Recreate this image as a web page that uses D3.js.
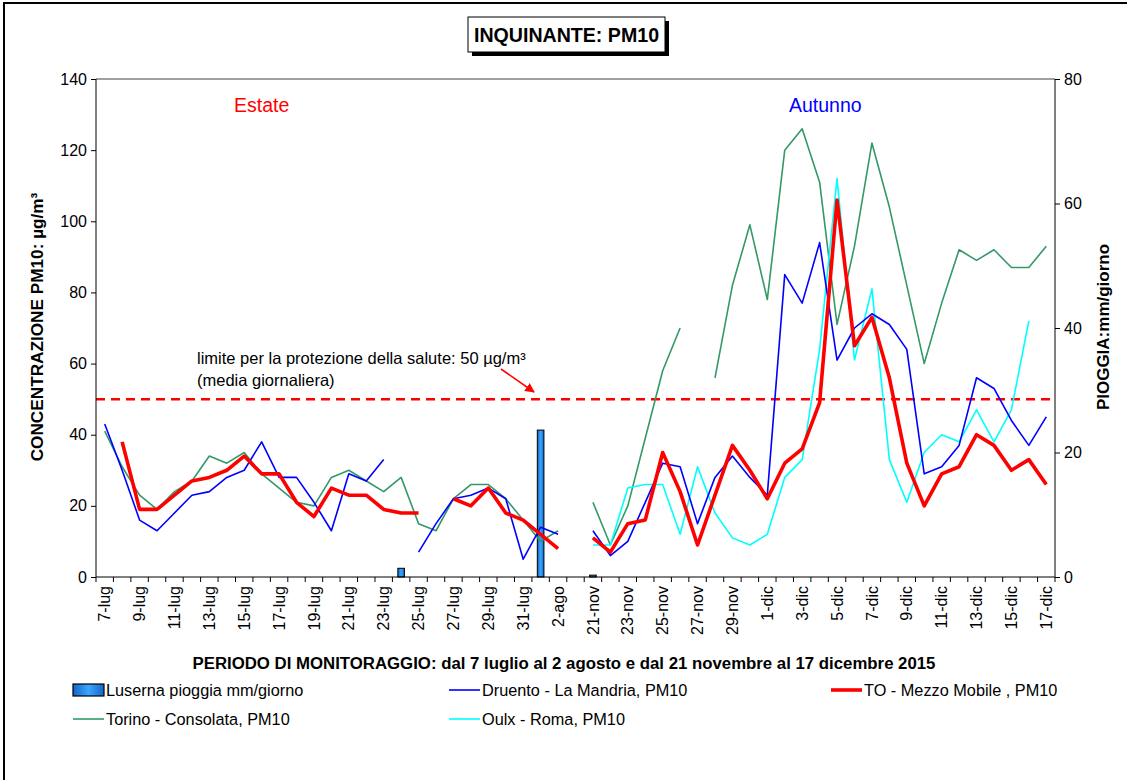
<!doctype html>
<html lang="en">
<head>
  <meta charset="utf-8">
  <title>Inquinante PM10</title>
  <style>
  body { margin: 0; background: #fff; }
  svg { display: block; font-family: "Liberation Sans", Arial, sans-serif; }
  .axis text { font-size: 16px; fill: #000; }
  .axis path, .axis line { stroke: #000; }
  </style>
</head>
<body>
  <div id="chart"></div>
  <script src="https://cdn.jsdelivr.net/npm/d3@7"></script>
  <script>
    // categories (the empty one is the gap between the two periods)
    var categories = ["7-lug","8-lug","9-lug","10-lug","11-lug","12-lug","13-lug","14-lug","15-lug","16-lug",
      "17-lug","18-lug","19-lug","20-lug","21-lug","22-lug","23-lug","24-lug","25-lug","26-lug",
      "27-lug","28-lug","29-lug","30-lug","31-lug","1-ago","2-ago","",
      "21-nov","22-nov","23-nov","24-nov","25-nov","26-nov","27-nov","28-nov","29-nov","30-nov",
      "1-dic","2-dic","3-dic","4-dic","5-dic","6-dic","7-dic","8-dic","9-dic","10-dic",
      "11-dic","12-dic","13-dic","14-dic","15-dic","16-dic","17-dic"];

    var rain = [0,0,0,0,0,0,0,0,0,0, 0,0,0,0,0,0,0,1.4,0,0, 0,0,0,0,0,23.6,0,0,
      0.3,0,0,0,0,0,0,0,0,0, 0,0,0,0,0,0,0,0,0,0, 0,0,0,0,0,0,0];

    var druento = [43,30,16,13,18,23,24,28,30,38, 28,28,21,13,29,27,33,null,7,15, 22,23,25,22,5,14,12,null,
      13,6,10,21,32,31,15,28,34,28, 23,85,77,94,61,70,74,71,64,29, 31,37,56,53,44,37,45];

    var mezzoMobile = [null,38,19,19,23,27,28,30,34,29, 29,21,17,25,23,23,19,18,18,null, 22,20,25,18,16,12,8,null,
      11,7,15,16,35,24,9,23,37,30, 22,32,36,49,106,65,73,56,32,20, 29,31,40,37,30,33,26];

    var consolata = [41,31,23,19,24,27,34,32,35,29, 25,21,20,28,30,27,24,28,15,13, 22,26,26,22,16,10,13,null,
      21,9,20,39,58,70,null,56,82,99, 78,120,126,111,71,93,122,104,82,60, 77,92,89,92,87,87,93];

    var oulx = [null,null,null,null,null,null,null,null,null,null, null,null,null,null,null,null,null,null,null,null,
      null,null,null,null,null,null,null,null,
      9,9,25,26,26,12,31,18,11,9, 12,28,33,64,112,61,81,33,21,35, 40,38,47,38,47,72,null];

    var leftTicks = [0,20,40,60,80,100,120,140];
    var rightTicks = [0,20,40,60,80];
    var limit = 50;

    (function(){

    var width = 1127, height = 780;
    var mLeft = 96, mRight = 1055, mTop = 79, mBottom = 577;

    var svg = d3.select("#chart").append("svg")
      .attr("width", width).attr("height", height);

    var defs = svg.append("defs");
    var grad = defs.append("linearGradient").attr("id", "barGrad")
      .attr("x1", "0").attr("x2", "1").attr("y1", "0").attr("y2", "0");
    grad.append("stop").attr("offset", "0%").attr("stop-color", "#1565c8");
    grad.append("stop").attr("offset", "50%").attr("stop-color", "#3aa6ff");
    grad.append("stop").attr("offset", "100%").attr("stop-color", "#1565c8");

    // outer frame
    svg.append("rect").attr("x", 4).attr("y", 3).attr("width", 1200).attr("height", 900)
      .attr("fill", "none").attr("stroke", "#000").attr("stroke-width", 2);

    // title box with shadow
    svg.append("rect").attr("x", 472).attr("y", 21).attr("width", 197).attr("height", 35).attr("fill", "#000");
    svg.append("rect").attr("x", 468).attr("y", 17).attr("width", 197).attr("height", 35)
      .attr("fill", "#fff").attr("stroke", "#000").attr("stroke-width", 1);
    svg.append("text").attr("x", 566.5).attr("y", 41.5).attr("text-anchor", "middle")
      .attr("font-weight", "bold").attr("font-size", 19.6).text("INQUINANTE: PM10");

    var x = d3.scaleBand().domain(categories).range([mLeft, mRight]).paddingInner(0).paddingOuter(0);
    var bw = x.bandwidth();
    var yL = d3.scaleLinear().domain([0, 140]).range([mBottom, mTop]);
    var yR = d3.scaleLinear().domain([0, 80]).range([mBottom, mTop]);
    var cx = function(i) { return x(categories[i]) + bw / 2; };

    // top border of plot area
    svg.append("line").attr("x1", mLeft).attr("x2", mRight).attr("y1", mTop).attr("y2", mTop)
      .attr("stroke", "#808080").attr("stroke-width", 1.5);

    // rain bars
    svg.append("g").selectAll("rect")
      .data(rain.map(function(v, i) { return {v: v, i: i}; }).filter(function(d) { return d.v > 0; }))
      .enter().append("rect")
      .attr("x", function(d) { return cx(d.i) - 3.3; })
      .attr("width", 6.6)
      .attr("y", function(d) { return yR(d.v); })
      .attr("height", function(d) { return mBottom - yR(d.v); })
      .attr("fill", "url(#barGrad)").attr("stroke", "#000").attr("stroke-width", 1);

    // limit line
    svg.append("line").attr("x1", mLeft).attr("x2", mRight).attr("y1", yL(limit)).attr("y2", yL(limit))
      .attr("stroke", "#ff0000").attr("stroke-width", 2.5).attr("stroke-dasharray", "9,6");

    var line = d3.line()
      .defined(function(d) { return d != null; })
      .x(function(d, i) { return cx(i); })
      .y(function(d) { return yL(d); });

    var series = [
      {data: consolata, color: "#339966", w: 1.6},
      {data: oulx, color: "#00ffff", w: 1.6},
      {data: druento, color: "#0000ff", w: 1.6},
      {data: mezzoMobile, color: "#ff0000", w: 3.6}
    ];
    svg.append("g").selectAll("path").data(series).enter().append("path")
      .attr("d", function(s) { return line(s.data); })
      .attr("fill", "none")
      .attr("stroke", function(s) { return s.color; })
      .attr("stroke-width", function(s) { return s.w; })
      .attr("stroke-linejoin", "round");

    // axes
    var gl = svg.append("g").attr("class", "axis").attr("transform", "translate(" + mLeft + ",0)")
      .call(d3.axisLeft(yL).tickValues(leftTicks).tickSize(5).tickPadding(4));
    var gr = svg.append("g").attr("class", "axis").attr("transform", "translate(" + mRight + ",0)")
      .call(d3.axisRight(yR).tickValues(rightTicks).tickSize(5).tickPadding(4));
    gl.select(".domain").attr("d", "M0," + mTop + "V" + mBottom);
    gr.select(".domain").attr("d", "M0," + mTop + "V" + mBottom);

    var gx = svg.append("g").attr("class", "axis").attr("transform", "translate(0," + mBottom + ")");
    gx.append("line").attr("x1", mLeft).attr("x2", mRight).attr("stroke", "#000");
    gx.selectAll(".tk").data(categories.concat(["_end"])).enter().append("line")
      .attr("x1", function(d, i) { return mLeft + i * bw; })
      .attr("x2", function(d, i) { return mLeft + i * bw; })
      .attr("y1", 0).attr("y2", 5).attr("stroke", "#444");
    gx.selectAll(".lbl").data(categories).enter()
      .filter(function(d, i) { return i % 2 === 0 && d !== ""; })
      .append("text")
      .attr("transform", function(d) {
        return "translate(" + (x(d) + bw / 2) + ",9) rotate(-90)";
      })
      .attr("text-anchor", "end").attr("dy", "0.35em")
      .text(function(d) { return d; });

    // axis titles
    svg.append("text").attr("transform", "translate(43,327) rotate(-90)")
      .attr("text-anchor", "middle").attr("font-weight", "bold").attr("font-size", 17.2)
      .text("CONCENTRAZIONE PM10: µg/m³");
    svg.append("text").attr("transform", "translate(1109,327) rotate(-90)")
      .attr("text-anchor", "middle").attr("font-weight", "bold").attr("font-size", 17)
      .text("PIOGGIA:mm/giorno");
    svg.append("text").attr("x", 564).attr("y", 669).attr("text-anchor", "middle")
      .attr("font-weight", "bold").attr("font-size", 16.8)
      .text("PERIODO DI MONITORAGGIO: dal 7 luglio al 2 agosto e dal 21 novembre al 17 dicembre 2015");

    // season labels
    svg.append("text").attr("x", 234).attr("y", 112).attr("font-size", 19.5).attr("fill", "#ff0000").text("Estate");
    svg.append("text").attr("x", 789).attr("y", 112).attr("font-size", 19.5).attr("fill", "#0000ff").text("Autunno");

    // limit annotation
    svg.append("text").attr("x", 197).attr("y", 364).attr("font-size", 16.5)
      .text("limite per la protezione della salute: 50 µg/m³");
    svg.append("text").attr("x", 197).attr("y", 386).attr("font-size", 16.5)
      .text("(media giornaliera)");
    defs.append("marker").attr("id", "arrow").attr("viewBox", "0 0 10 10")
      .attr("refX", 9).attr("refY", 5).attr("markerWidth", 6).attr("markerHeight", 6)
      .attr("orient", "auto")
      .append("path").attr("d", "M0,0L10,5L0,10z").attr("fill", "#ff0000");
    svg.append("line").attr("x1", 501).attr("y1", 369).attr("x2", 534).attr("y2", 392)
      .attr("stroke", "#ff0000").attr("stroke-width", 1.6).attr("marker-end", "url(#arrow)");

    // legend
    var legend = [
      {name: "Luserna pioggia mm/giorno", type: "bar", x: 73, y: 690},
      {name: "Druento - La Mandria, PM10", color: "#0000ff", w: 1.6, x: 449, y: 690},
      {name: "TO - Mezzo Mobile , PM10", color: "#ff0000", w: 3.6, x: 831, y: 690},
      {name: "Torino - Consolata, PM10", color: "#339966", w: 1.6, x: 73, y: 719},
      {name: "Oulx - Roma, PM10", color: "#00ffff", w: 1.6, x: 449, y: 719}
    ];
    var lg = svg.append("g").selectAll("g").data(legend).enter().append("g")
      .attr("transform", function(d) { return "translate(" + d.x + "," + d.y + ")"; });
    lg.each(function(d) {
      var g = d3.select(this);
      if (d.type === "bar") {
        g.append("rect").attr("x", 0).attr("y", -6).attr("width", 31).attr("height", 12)
          .attr("fill", "url(#barGrad)").attr("stroke", "#000").attr("stroke-width", 1.2);
      } else {
        g.append("line").attr("x1", 0).attr("x2", 31).attr("y1", 0).attr("y2", 0)
          .attr("stroke", d.color).attr("stroke-width", d.w);
      }
    });
    lg.append("text").attr("x", 33).attr("y", 0).attr("dy", "0.35em").attr("font-size", 16.3)
      .text(function(d) { return d.name; });

    })();
  </script>
</body>
</html>
